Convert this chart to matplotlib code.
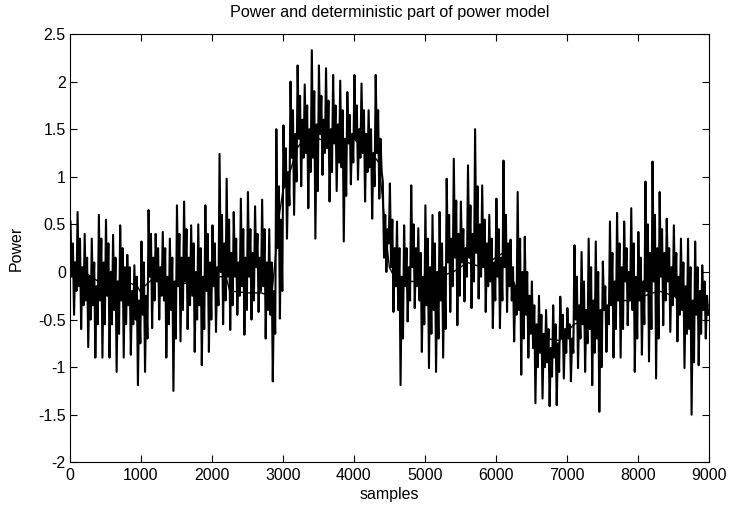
import numpy as np
import matplotlib
matplotlib.use("Agg")
from matplotlib import pyplot as plt
from matplotlib.ticker import FuncFormatter

# measured power, read off the plot per 100-sample bin:
# extreme high / low of the bin, the edges of the dense core and two values inside it
power_hi = [0.53, 0.63, 0.40, 0.35, 0.60, 0.55, 0.39, 0.49, 0.18, 0.07,
            0.32, 0.65, 0.40, 0.42, 0.35, 0.70, 0.74, 0.49, 0.50, 0.70,
            0.49, 1.24, 0.98, 0.63, 0.77, 0.84, 0.69, 0.76, 0.45, 1.50,
            1.54, 2.00, 2.17, 1.97, 2.33, 2.17, 2.14, 2.07, 2.01, 1.89,
            2.07, 1.98, 1.70, 2.07, 0.95, 0.93, 0.53, 0.49, 0.91, 0.46,
            0.70, 0.60, 0.63, 0.98, 1.19, 0.74, 1.12, 1.50, 0.91, 0.60,
            0.77, 1.17, 0.34, 0.84, 0.37, -0.10, -0.25, -0.40, -0.35, -0.26,
            -0.38, 0.28, 0.21, 0.35, 0.32, 0.11, 0.53, 0.62, 0.53, 0.67,
            0.42, 0.95, 1.16, 0.84, 0.56, 0.49, 0.35, 0.35, 0.32, 0.07]
power_lo = [-0.45, -0.60, -0.79, -0.90, -0.90, -0.90, -1.05, -0.90, -0.87, -1.19,
            -1.05, -0.59, -0.50, -0.90, -1.25, -0.73, -0.60, -0.84, -0.98, -0.84,
            -0.63, -0.55, -0.61, -0.45, -0.66, -0.50, -0.42, -0.70, -1.15, -0.49,
            0.35, 0.60, 0.90, 0.67, 0.35, 1.02, 0.74, 0.85, 0.32, 0.92,
            0.97, 0.74, 0.56, 0.77, 0.00, -0.42, -1.19, -0.52, -0.38, -0.84,
            -1.01, -1.05, -0.90, -0.42, -0.56, -0.31, -0.38, -0.28, -0.42, -0.59,
            -0.59, -0.42, -0.73, -1.08, -0.90, -1.38, -1.33, -1.41, -1.40, -1.12,
            -1.15, -1.01, -1.05, -1.19, -1.47, -0.84, -0.90, -0.90, -0.56, -1.05,
            -0.87, -0.94, -1.12, -0.56, -0.63, -0.73, -1.01, -1.50, -0.98, -0.70]
core_hi = [0.30, 0.35, 0.15, 0.10, 0.35, 0.30, 0.15, 0.25, 0.05, -0.05,
           0.10, 0.40, 0.25, 0.25, 0.15, 0.40, 0.45, 0.30, 0.25, 0.40,
           0.30, 0.60, 0.55, 0.35, 0.45, 0.45, 0.40, 0.45, 0.10, 0.90,
           1.30, 1.70, 1.85, 1.75, 1.90, 1.85, 1.80, 1.75, 1.70, 1.65,
           1.75, 1.70, 1.50, 1.70, 0.60, 0.55, 0.25, 0.25, 0.50, 0.20,
           0.35, 0.30, 0.30, 0.60, 0.75, 0.45, 0.70, 0.90, 0.55, 0.35,
           0.45, 0.60, 0.05, 0.35, 0.00, -0.35, -0.45, -0.60, -0.55, -0.45,
           -0.55, -0.05, -0.10, 0.05, 0.00, -0.15, 0.20, 0.30, 0.25, 0.30,
           0.15, 0.50, 0.60, 0.45, 0.25, 0.20, 0.10, 0.05, 0.05, -0.10]
core_lo = [-0.20, -0.35, -0.50, -0.55, -0.55, -0.55, -0.65, -0.55, -0.55, -0.75,
           -0.70, -0.30, -0.25, -0.55, -0.70, -0.40, -0.35, -0.50, -0.60, -0.50,
           -0.35, -0.30, -0.35, -0.25, -0.40, -0.30, -0.20, -0.40, -0.65, -0.20,
           0.70, 0.95, 1.20, 1.05, 0.85, 1.25, 1.05, 1.15, 0.80, 1.15,
           1.20, 1.05, 0.90, 1.05, 0.30, -0.15, -0.70, -0.30, -0.15, -0.55,
           -0.65, -0.70, -0.60, -0.15, -0.25, -0.05, -0.10, -0.05, -0.15, -0.30,
           -0.30, -0.15, -0.45, -0.70, -0.65, -1.00, -1.00, -1.10, -1.05, -0.85,
           -0.85, -0.70, -0.75, -0.85, -1.00, -0.55, -0.60, -0.60, -0.30, -0.70,
           -0.55, -0.60, -0.70, -0.30, -0.35, -0.45, -0.65, -0.95, -0.65, -0.45]
mid_a = [0.10, 0.05, -0.05, -0.15, 0.10, 0.00, -0.10, 0.05, -0.20, -0.30,
         -0.25, 0.15, 0.05, -0.05, -0.10, 0.15, 0.15, 0.00, -0.05, 0.10,
         0.05, 0.30, 0.20, 0.10, 0.15, 0.20, 0.15, 0.10, -0.20, 0.55,
         1.05, 1.45, 1.60, 1.50, 1.55, 1.60, 1.50, 1.55, 1.40, 1.45,
         1.50, 1.45, 1.25, 1.40, 0.45, 0.25, -0.05, 0.05, 0.25, -0.05,
         0.05, 0.00, 0.05, 0.35, 0.40, 0.25, 0.40, 0.50, 0.30, 0.10,
         0.15, 0.30, -0.15, 0.00, -0.25, -0.55, -0.65, -0.80, -0.75, -0.60,
         -0.70, -0.35, -0.40, -0.30, -0.40, -0.35, -0.10, 0.05, 0.00, -0.05,
         -0.10, 0.20, 0.25, 0.20, 0.05, -0.05, -0.15, -0.30, -0.20, -0.25]
mid_b = [-0.05, -0.15, -0.30, -0.35, -0.30, -0.25, -0.40, -0.30, -0.35, -0.50,
         -0.45, -0.05, -0.10, -0.30, -0.40, -0.15, -0.10, -0.25, -0.35, -0.20,
         -0.15, 0.00, -0.05, -0.05, -0.15, -0.05, 0.05, -0.15, -0.45, 0.25,
         0.90, 1.20, 1.40, 1.25, 1.20, 1.45, 1.30, 1.35, 1.10, 1.35,
         1.40, 1.25, 1.10, 1.25, 0.15, 0.05, -0.40, -0.15, 0.05, -0.30,
         -0.35, -0.40, -0.30, 0.10, 0.15, 0.10, 0.15, 0.20, 0.05, -0.10,
         -0.05, 0.05, -0.30, -0.40, -0.45, -0.80, -0.85, -0.95, -0.90, -0.70,
         -0.70, -0.50, -0.55, -0.60, -0.70, -0.40, -0.35, -0.30, -0.10, -0.40,
         -0.30, -0.20, -0.10, -0.05, -0.10, -0.25, -0.40, -0.60, -0.45, -0.40]

# deterministic part of the power model
det_samples = [0, 200, 400, 600, 800, 950, 1000, 1050, 1200, 1400, 1600, 1800,
               2000, 2100, 2200, 2250, 2500, 2700, 2800, 2850, 2900, 2950, 3000,
               3100, 3200, 3300, 3500, 3700, 4000, 4200, 4300, 4350, 4400, 4450,
               4500, 4600, 4800, 5000, 5200, 5400, 5600, 5800, 6000, 6100, 6150,
               6300, 6500, 6700, 6900, 7100, 7300, 7500, 7700, 7900, 8100, 8300,
               8500, 8700, 9000]
det_power = [0.15, 0.00, -0.10, -0.10, -0.10, -0.15, -0.22, -0.15, -0.05, -0.10,
             -0.12, -0.12, -0.15, -0.05, -0.05, -0.20, -0.22, -0.22, -0.25, -0.20,
             0.20, 0.60, 0.85, 1.05, 1.30, 1.40, 1.40, 1.35, 1.40, 1.25, 1.20,
             1.15, 0.80, 0.40, 0.05, -0.10, -0.10, -0.10, -0.05, 0.00, 0.10,
             0.05, 0.15, 0.20, 0.10, -0.20, -0.50, -0.70, -0.72, -0.55, -0.50,
             -0.40, -0.30, -0.30, -0.25, -0.20, -0.25, -0.35, -0.35]

plt.rcParams['font.family'] = ['Liberation Sans', 'DejaVu Sans']
plt.rcParams['font.size'] = 11
plt.rcParams['axes.unicode_minus'] = False

# walk through the six readings of each bin
xs, ys = [], []
for k in range(len(power_hi)):
    xs += [k * 100 + off for off in (8, 25, 42, 58, 75, 92)]
    ys += [power_hi[k], mid_b[k], core_hi[k], power_lo[k], mid_a[k], core_lo[k]]

fig = plt.figure(figsize=(7.36, 5.08), dpi=100)
ax = fig.add_axes([0.095, 0.09, 0.868, 0.843])
ax.plot(xs, ys, color='black', linewidth=1.5)
ax.plot(det_samples, det_power, color='black', linewidth=1.0)

ax.set_xlim(0, 9000)
ax.set_ylim(-2, 2.5)
ax.set_xticks(np.arange(0, 9001, 1000))
ax.set_yticks(np.arange(-2, 2.51, 0.5))
ax.yaxis.set_major_formatter(FuncFormatter(lambda v, p: f"{v:g}"))
ax.tick_params(direction='in', top=True, right=True, length=5, labelsize=11.5)
ax.tick_params(axis='x', pad=4)
ax.tick_params(axis='y', pad=3)
ax.set_title("Power and deterministic part of power model", fontsize=11.6, pad=12)
ax.set_xlabel("samples", labelpad=3, fontsize=11.5)
ax.set_ylabel("Power", labelpad=10, fontsize=11.5)

fig.savefig("out.png", dpi=100)
